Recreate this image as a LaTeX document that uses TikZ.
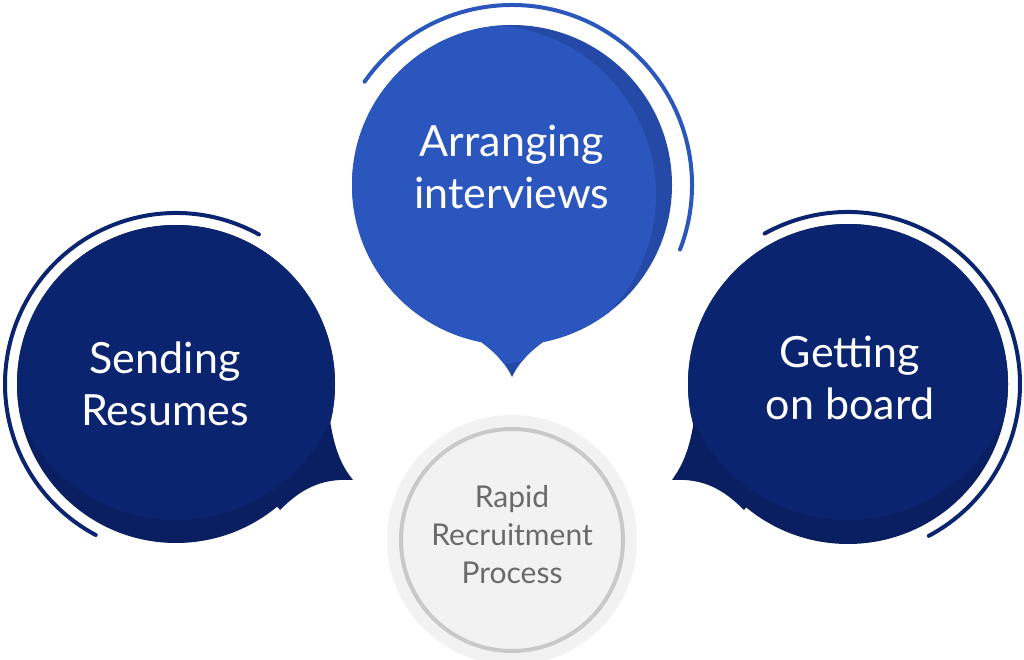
\documentclass[tikz,border=0pt]{standalone}
\usepackage{fontspec}
\setmainfont{Lato}
\definecolor{navy}{HTML}{0B2470}
\definecolor{navyd}{HTML}{0A1F62}
\definecolor{mblue}{HTML}{2B56BE}
\definecolor{mblued}{HTML}{2449A6}
\definecolor{ringg}{HTML}{C9C9C9}
\definecolor{bgg}{HTML}{F2F2F2}
\definecolor{txtg}{HTML}{6A6A6A}
\tikzset{
 lbl/.style={text=white,align=center,font=\fontsize{43}{52}\selectfont},
 clbl/.style={text=txtg,align=center,font=\fontsize{30}{38}\selectfont},
 ring/.style={line width=4pt,line cap=round}
}
\begin{document}
\begin{tikzpicture}[x=1pt,y=-1pt]
\useasboundingbox (0,0) rectangle (1024,660);
% left bubble
\def\ltail{(330,420) .. controls (335,455) and (345,470) .. (353,480) .. controls (320,478) and (300,490) .. (280,510) -- (176,384) -- cycle}
\fill[navyd] (176,384) circle(159);
\fill[navyd] \ltail;
\begin{scope}\clip (176,384) circle(159);
\fill[navy] (176,350) circle(170);
\end{scope}
\begin{scope}\clip \ltail;
\fill[navy] (176,350) circle(170);
\end{scope}
\draw[navy,ring] ([shift={(-61:171)}]176,384) arc[start angle=-61,end angle=-242,radius=171];
% middle bubble
\def\mtail{(462,330) .. controls (490,345) and (505,362) .. (512,377) .. controls (520,360) and (535,345) .. (562,330) -- (512,185) -- cycle}
\fill[mblued] (512,185) circle(160);
\fill[mblued] \mtail;
\begin{scope}\clip (512,185) circle(160);
\fill[mblue] (486,195) circle(170);
\end{scope}
\begin{scope}\clip \mtail;
\fill[mblue] (486,195) circle(170);
\end{scope}
\draw[mblue,ring] ([shift={(-145:180)}]512,185) arc[start angle=-145,end angle=21,radius=180];
% right bubble
\def\rtail{(694,420) .. controls (689,455) and (679,470) .. (672,480) .. controls (704,478) and (724,490) .. (744,510) -- (848,384) -- cycle}
\fill[navyd] (848,384) circle(160);
\fill[navyd] \rtail;
\begin{scope}\clip (848,384) circle(160);
\fill[navy] (848,350) circle(170);
\end{scope}
\begin{scope}\clip \rtail;
\fill[navy] (848,350) circle(170);
\end{scope}
\draw[navy,ring] ([shift={(-119:172)}]848,384) arc[start angle=-119,end angle=62,radius=172];
% center
\fill[bgg] (512,540) circle(125);
\draw[ringg,line width=4pt,fill=bgg] (512,540) circle(111);
\node[clbl] (c) at (512,535) {Rapid\\Recruitment\\Process};
\node[lbl] (l) at (165,384) {Sending\\Resumes};
\node[lbl] (m) at (512,167) {Arranging\\interviews};
\node[lbl] (r) at (850,378) {Getting\\on board};
\end{tikzpicture}
\end{document}
